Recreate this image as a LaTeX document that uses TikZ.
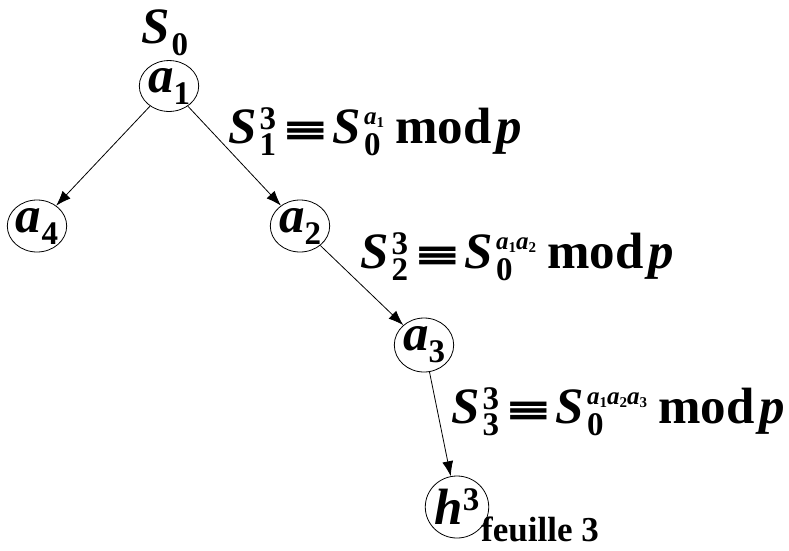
\documentclass[tikz,border=0pt]{standalone}
\usepackage{fontspec}
\setmainfont{Liberation Serif}
\newfontfamily\symF{DejaVu Serif}
\usetikzlibrary{arrows.meta,shapes.geometric}

\newcommand\mainF{\fontsize{51}{51}\selectfont\bfseries}
\newcommand\scrF{\fontsize{33}{33}\selectfont\bfseries}
\newcommand\expF{\fontsize{25}{25}\selectfont\bfseries\itshape}
\newcommand\expsF{\fontsize{15}{15}\selectfont\bfseries\upshape}
\newcommand\featF{\fontsize{35}{35}\selectfont\bfseries}
\newcommand\eqv{\scalebox{1.45}[1]{\symF\fontsize{40}{40}\selectfont\bfseries ≡}}
% \stackss{raise}{sup}{drop}{sub}
\newcommand\stackss[4]{{\kern3pt\sbox0{#2}\sbox2{#4}%
  \ifdim\wd0>\wd2\relax\rlap{\raisebox{-#3}{\usebox2}}\raisebox{#1}{\usebox0}%
  \else\rlap{\raisebox{#1}{\usebox0}}\raisebox{-#3}{\usebox2}\fi}}
\newcommand\ea[1]{{\expF a}\raisebox{-3pt}{\expsF #1}}

\tikzset{
  lbl/.style={font=\mainF, inner sep=0pt, anchor=base west},
  vert/.style={draw, ellipse, line width=0.8pt, inner sep=0pt, font=\mainF},
  edge/.style={line width=0.8pt, -{Latex[length=15pt,width=11pt]}}
}

\begin{document}
\begin{tikzpicture}[x=1pt,y=-1pt]
\useasboundingbox (0,0) rectangle (789,550);

\node[lbl] (s0) at (141,43) {\textit{S}\kern2pt\raisebox{-12pt}{\scrF 0}};

\node[vert, minimum width=52pt, minimum height=44pt] (a1) at (169,86) {\textit{a}\raisebox{-12pt}{\scrF 1}};
\node[vert, minimum width=52pt, minimum height=52pt] (a4) at (37,226) {\textit{a}\raisebox{-12pt}{\scrF 4}};
\node[vert, minimum width=52pt, minimum height=52pt] (a2) at (300,226) {\textit{a}\raisebox{-12pt}{\scrF 2}};
\node[vert, minimum width=50pt, minimum height=54pt] (a3) at (424,345) {\textit{a}\raisebox{-12pt}{\scrF 3}};
\node[vert, minimum width=50pt, minimum height=62pt] (h3) at (457,507) {\textit{h}\raisebox{14pt}{\scrF 3}};

\node[font=\featF, inner sep=0pt, anchor=base west] (feat) at (481,541) {feuille 3};

\draw[edge] (a1) -- (a4);
\draw[edge] (a1) -- (a2);
\draw[edge] (a2) -- (a3);
\draw[edge] (a3) -- (h3);

\node[lbl] (l1) at (228,143) {\textit{S}\stackss{14pt}{\scrF 3}{12pt}{\scrF 1}\hspace{5pt}\eqv\hspace{3pt}\textit{S}\stackss{19pt}{\ea{1}}{12pt}{\scrF 0}\hspace{11pt}mod\hspace{5pt}\textit{p}};
\node[lbl] (l2) at (360,268) {\textit{S}\stackss{14pt}{\scrF 3}{12pt}{\scrF 2}\hspace{5pt}\eqv\hspace{3pt}\textit{S}\stackss{19pt}{\ea{1}\ea{2}}{12pt}{\scrF 0}\hspace{11pt}mod\hspace{5pt}\textit{p}};
\node[lbl] (l3) at (451,423) {\textit{S}\stackss{14pt}{\scrF 3}{12pt}{\scrF 3}\hspace{5pt}\eqv\hspace{3pt}\textit{S}\stackss{19pt}{\ea{1}\ea{2}\ea{3}}{12pt}{\scrF 0}\hspace{11pt}mod\hspace{5pt}\textit{p}};
\end{tikzpicture}
\end{document}
